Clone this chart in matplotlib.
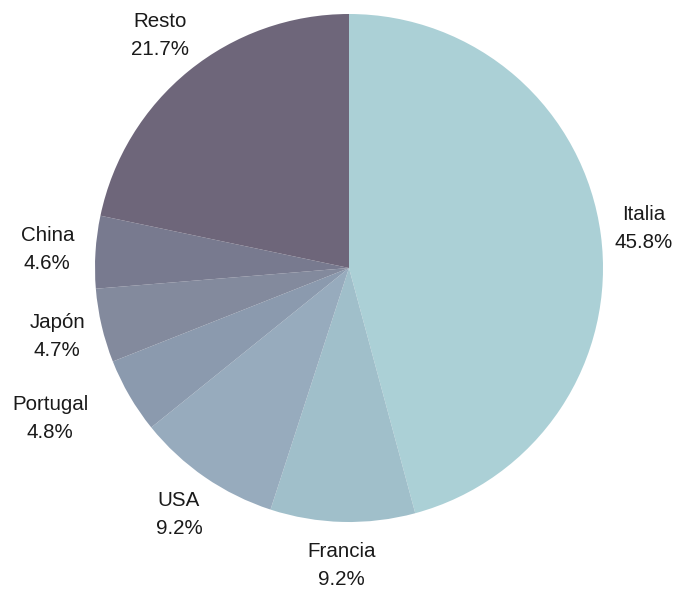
import numpy as np
import matplotlib.pyplot as plt

plt.rcParams['font.family'] = ['Liberation Sans', 'DejaVu Sans']

paises = ['Italia', 'Francia', 'USA', 'Portugal', 'Japón', 'China', 'Resto']
porcentajes = [45.8, 9.2, 9.2, 4.8, 4.7, 4.6, 21.7]
colores = ['#abd0d6', '#a0bfca', '#97abbd', '#8b9aae', '#838a9d', '#787a8f', '#6e667a']
# distancia de cada etiqueta (en radios) y desplazamiento horizontal extra (px)
dist_etiqueta = [1.18, 1.17, 1.18, 1.18, 1.18, 1.19, 1.18]
desp_x = [-2, 0, 0, -40, 0, 0, 0]

fig = plt.figure(figsize=(6.77, 5.89), dpi=100)
ax = fig.add_axes([0, 0, 1, 1])

centro = (349, 321)
radio = 254
wedges, _ = ax.pie(porcentajes, colors=colores, startangle=90, counterclock=False,
                   center=centro, radius=radio, wedgeprops={'linewidth': 0})

for w, p, v, d, dx in zip(wedges, paises, porcentajes, dist_etiqueta, desp_x):
    ang = np.deg2rad((w.theta1 + w.theta2) / 2)
    x = centro[0] + d * radio * np.cos(ang) + dx
    y = centro[1] + d * radio * np.sin(ang)
    ax.text(x, y, f"{p}\n{v:.1f}%", ha='center', va='center', fontsize=14.8,
            color='#1a1a1a', linespacing=1.6)

ax.set_xlim(0, 677)
ax.set_ylim(0, 589)
ax.set_aspect('equal')
ax.axis('off')

fig.savefig('out.png', dpi=100)
plt.close(fig)
